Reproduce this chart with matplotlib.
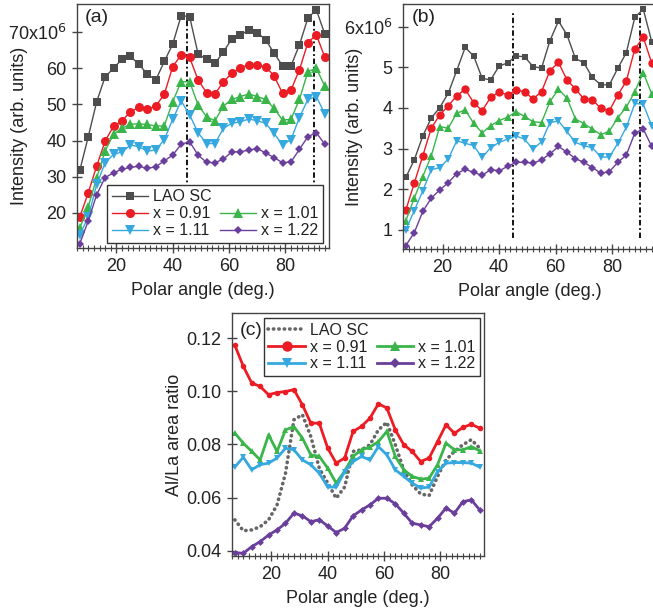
import matplotlib
matplotlib.use("Agg")
import matplotlib.pyplot as plt
from matplotlib.lines import Line2D
from matplotlib.ticker import MultipleLocator, FixedLocator, FixedFormatter

plt.rcParams['font.family'] = ['Liberation Sans', 'DejaVu Sans']

# ---------------- data ----------------
angle = list(range(7, 95, 3))  # polar angle (deg.)

a_lao = [31.8, 41.1, 50.8, 57.7, 60.0, 62.6, 63.3, 61.1, 58.4, 56.8, 61.9, 66.7, 74.6, 74.3, 64.0,
         62.5, 61.4, 64.5, 68.2, 69.3, 70.5, 69.9, 67.9, 64.2, 60.7, 60.7, 66.5, 73.9, 76.2, 69.5]
a_091 = [18.9, 25.6, 33.0, 39.9, 44.0, 45.5, 48.0, 49.2, 48.7, 49.6, 52.8, 60.5, 63.7, 63.0, 56.8,
         53.3, 52.9, 56.3, 58.6, 60.2, 60.9, 60.8, 60.5, 57.9, 53.1, 54.0, 59.6, 67.1, 69.3, 63.1]
a_101 = [15.8, 21.7, 29.7, 37.2, 41.8, 43.4, 44.6, 44.6, 44.5, 44.0, 44.1, 50.8, 56.3, 56.3, 49.9,
         46.6, 45.5, 49.6, 51.4, 52.2, 52.9, 52.2, 51.4, 48.9, 45.7, 45.9, 51.4, 59.1, 60.0, 55.1]
a_111 = [14.0, 18.9, 27.9, 33.9, 36.2, 36.9, 38.8, 38.3, 37.1, 37.4, 40.3, 45.9, 51.0, 47.1, 42.2,
         39.2, 39.2, 43.4, 44.8, 45.2, 46.0, 45.5, 44.8, 42.0, 38.8, 40.3, 46.4, 51.4, 52.2, 47.4]
a_122 = [11.5, 17.8, 25.1, 29.8, 31.1, 32.1, 32.6, 32.9, 32.3, 32.8, 34.4, 36.0, 39.0, 39.7, 36.0,
         34.0, 33.9, 34.9, 36.9, 36.9, 37.4, 37.8, 36.6, 35.3, 33.9, 34.1, 37.6, 41.1, 42.2, 39.0]

b_lao = [2.29, 2.72, 3.31, 3.75, 4.01, 4.36, 4.92, 5.49, 5.28, 4.73, 4.69, 5.03, 5.11, 5.28, 5.26,
         5.02, 4.98, 5.66, 6.14, 5.80, 5.22, 5.11, 4.75, 4.57, 4.57, 4.98, 5.36, 6.23, 6.43, 5.63]
b_091 = [1.48, 2.15, 2.82, 3.50, 3.83, 4.05, 4.30, 4.46, 4.13, 3.93, 4.26, 4.39, 4.32, 4.44, 4.40,
         4.22, 4.40, 4.92, 5.12, 4.69, 4.47, 4.22, 4.20, 3.99, 3.93, 4.32, 4.66, 5.45, 5.74, 5.10]
b_101 = [1.22, 1.78, 2.31, 2.82, 3.54, 3.50, 3.87, 3.95, 3.62, 3.39, 3.56, 3.69, 3.77, 3.91, 3.79,
         3.66, 3.64, 4.16, 4.46, 4.24, 3.73, 3.61, 3.48, 3.34, 3.43, 3.76, 4.02, 4.40, 4.87, 4.34]
b_111 = [1.00, 1.47, 1.96, 2.48, 2.53, 2.74, 3.19, 3.13, 3.07, 2.78, 3.02, 3.15, 3.23, 3.31, 3.23,
         2.98, 3.17, 3.64, 3.68, 3.42, 3.15, 3.07, 3.02, 2.79, 2.79, 3.13, 3.52, 4.11, 4.09, 3.56]
b_122 = [0.61, 0.93, 1.45, 1.78, 1.98, 2.16, 2.38, 2.49, 2.41, 2.34, 2.48, 2.45, 2.56, 2.66, 2.66,
         2.64, 2.72, 2.87, 3.05, 2.91, 2.75, 2.66, 2.53, 2.39, 2.43, 2.66, 2.84, 3.38, 3.48, 3.05]

c_lao = [0.0517, 0.0476, 0.0479, 0.0491, 0.0517, 0.0573, 0.0692, 0.0893, 0.0912, 0.0830, 0.0711,
         0.0655, 0.0598, 0.0640, 0.0774, 0.0780, 0.0799, 0.0855, 0.0883, 0.0799, 0.0705, 0.0648,
         0.0614, 0.0608, 0.0680, 0.0742, 0.0774, 0.0799, 0.0818, 0.0786]
c_091 = [0.1173, 0.1094, 0.1031, 0.1018, 0.0987, 0.0995, 0.0999, 0.1006, 0.0949, 0.0880, 0.0880,
         0.0786, 0.0730, 0.0749, 0.0849, 0.0868, 0.0899, 0.0953, 0.0937, 0.0855, 0.0799, 0.0774,
         0.0736, 0.0749, 0.0811, 0.0874, 0.0842, 0.0864, 0.0876, 0.0861]
c_101 = [0.0843, 0.0805, 0.0774, 0.0742, 0.0836, 0.0774, 0.0855, 0.0867, 0.0824, 0.0761, 0.0755,
         0.0711, 0.0655, 0.0700, 0.0755, 0.0780, 0.0790, 0.0811, 0.0849, 0.0755, 0.0705, 0.0680,
         0.0670, 0.0673, 0.0724, 0.0805, 0.0780, 0.0780, 0.0792, 0.0776]
c_111 = [0.0715, 0.0752, 0.0705, 0.0724, 0.0730, 0.0749, 0.0786, 0.0780, 0.0742, 0.0724, 0.0692,
         0.0640, 0.0640, 0.0698, 0.0736, 0.0755, 0.0742, 0.0792, 0.0761, 0.0705, 0.0680, 0.0655,
         0.0636, 0.0640, 0.0698, 0.0730, 0.0732, 0.0732, 0.0730, 0.0715]
c_122 = [0.0394, 0.0391, 0.0416, 0.0435, 0.0460, 0.0479, 0.0504, 0.0542, 0.0532, 0.0510, 0.0517,
         0.0494, 0.0469, 0.0485, 0.0532, 0.0554, 0.0573, 0.0598, 0.0598, 0.0577, 0.0542, 0.0504,
         0.0498, 0.0491, 0.0523, 0.0561, 0.0542, 0.0585, 0.0592, 0.0554]

labels = ['LAO SC', 'x = 0.91', 'x = 1.01', 'x = 1.11', 'x = 1.22']
a_yticks = [20, 30, 40, 50, 60, 70]
a_yticklabels = ['20', '30', '40', '50', '60', '70x10$^6$']
b_yticks = [1, 2, 3, 4, 5, 6]
b_yticklabels = ['1', '2', '3', '4', '5', '6x10$^6$']
c_yticks = [0.04, 0.06, 0.08, 0.10, 0.12]
c_yticklabels = ['0.04', '0.06', '0.08', '0.10', '0.12']
xticks = [20, 40, 60, 80]
marker_lines = [45, 90]

# ---------------- style ----------------
GRAY = '#4d4d4d'
RED = '#ec1c24'
GREEN = '#39b54a'
BLUE = '#35a8e0'
PURPLE = '#6a3f9c'
colors = [GRAY, RED, GREEN, BLUE, PURPLE]
markers = ['s', 'o', '^', 'v', 'D']
msizes = [5.5, 6.5, 6.5, 6.5, 4.5]
SPINE = '#444444'
TXT = '#222222'

W, H = 653, 616
fig = plt.figure(figsize=(W / 100, H / 100), dpi=100)


def box(l, r, t, b):
    return [l / W, (H - b) / H, (r - l) / W, (b - t) / H]


def style_axes(ax, xlabel, ylabel, yticks, yticklabels, ylim, ylab_x):
    ax.set_xlim(6, 95.5)
    ax.set_ylim(*ylim)
    ax.xaxis.set_major_locator(FixedLocator(xticks))
    ax.xaxis.set_minor_locator(MultipleLocator(2))
    ax.yaxis.set_major_locator(FixedLocator(yticks))
    ax.yaxis.set_major_formatter(FixedFormatter(yticklabels))
    ax.tick_params(axis='both', which='major', direction='inout', length=7, width=1,
                   color=SPINE, labelsize=13, labelcolor=TXT, pad=4)
    ax.tick_params(axis='x', which='minor', direction='inout', length=4, width=0.8, color=SPINE)
    ax.tick_params(axis='y', which='minor', left=False)
    for s in ax.spines.values():
        s.set_color(SPINE)
        s.set_linewidth(1.0)
    ax.set_xlabel(xlabel, fontsize=13, color=TXT, labelpad=5)
    ax.set_ylabel(ylabel, fontsize=13, color=TXT)
    ax.yaxis.set_label_coords(ylab_x, 0.5)


def legend(ax, handles, loc, anchor):
    blank = Line2D([], [], linestyle='none', marker=None)
    hs = [handles[0], handles[1], handles[3], blank, handles[2], handles[4]]
    ls = [labels[0], labels[1], labels[3], '', labels[2], labels[4]]
    lg = ax.legend(hs, ls, ncol=2, loc=loc, bbox_to_anchor=anchor, fontsize=11.5,
                   frameon=True, fancybox=False, edgecolor='#333333', framealpha=1,
                   handlelength=2.3, handletextpad=0.3, columnspacing=0.5,
                   labelspacing=0.12, borderpad=0.3, borderaxespad=0)
    lg.get_frame().set_linewidth(1.0)
    for t in lg.get_texts():
        t.set_color(TXT)
    return lg


# ---------------- panel (a) ----------------
axa = fig.add_axes(box(77, 329, 4, 248))
ha = []
for ys, c, m, ms, lab in zip([a_lao, a_091, a_101, a_111, a_122], colors, markers, msizes, labels):
    h, = axa.plot(angle, ys, color=c, lw=1.0, marker=m, ms=ms, mfc=c, mec=c, mew=0, label=lab)
    ha.append(h)
for xv in marker_lines:
    axa.axvline(xv, ymin=0.03, ymax=0.94, color='black', lw=1.3,
                linestyle=(0, (3, 1.5, 1, 1.5)), zorder=1)
style_axes(axa, 'Polar angle (deg.)', 'Intensity (arb. units)', a_yticks, a_yticklabels,
           (10.3, 77.8), -0.195)
legend(axa, ha, 'lower right', (0.978, 0.02))
axa.text(0.03, 0.945, '(a)', transform=axa.transAxes, fontsize=14, color=TXT, va='center', ha='left')

# ---------------- panel (b) ----------------
axb = fig.add_axes(box(403, 656, 4, 249))
for ys, c, m, ms in zip([b_lao, b_091, b_101, b_111, b_122], colors, markers, msizes):
    axb.plot(angle, ys, color=c, lw=1.0, marker=m, ms=ms - 0.5, mfc=c, mec=c, mew=0)
for xv in marker_lines:
    axb.axvline(xv, ymin=0.045, ymax=0.963, color='black', lw=1.3,
                linestyle=(0, (3, 1.5, 1, 1.5)), zorder=1)
style_axes(axb, 'Polar angle (deg.)', 'Intensity (arb. units)', b_yticks, b_yticklabels,
           (0.525, 6.56), -0.158)
axb.text(0.035, 0.945, '(b)', transform=axb.transAxes, fontsize=14, color=TXT, va='center', ha='left')

# ---------------- panel (c) ----------------
axc = fig.add_axes(box(232, 484, 313, 556))
hc = []
h, = axc.plot(angle, c_lao, color='#666666', lw=2.6, linestyle=(0, (0.1, 1.4)),
              dash_capstyle='round', label=labels[0])
hc.append(h)
for ys, c, m, ms, lab in zip([c_091, c_101, c_111, c_122], colors[1:], markers[1:], [4, 4, 4, 3.5], labels[1:]):
    h, = axc.plot(angle, ys, color=c, lw=2.0, marker=m, ms=ms, mfc=c, mec=c, mew=0, label=lab)
    hc.append(h)
style_axes(axc, 'Polar angle (deg.)', 'Al/La area ratio', c_yticks, c_yticklabels,
           (0.0381, 0.1294), -0.194)
lgc = legend(axc, hc, 'upper right', (0.985, 0.98))
for lh, ms in zip(lgc.legend_handles, [0, 7.5, 7, 0, 7, 5.5]):
    if ms:
        lh.set_markersize(ms)
axc.text(0.03, 0.93, '(c)', transform=axc.transAxes, fontsize=14, color=TXT, va='center', ha='left')

fig.savefig('out.png', dpi=100)
